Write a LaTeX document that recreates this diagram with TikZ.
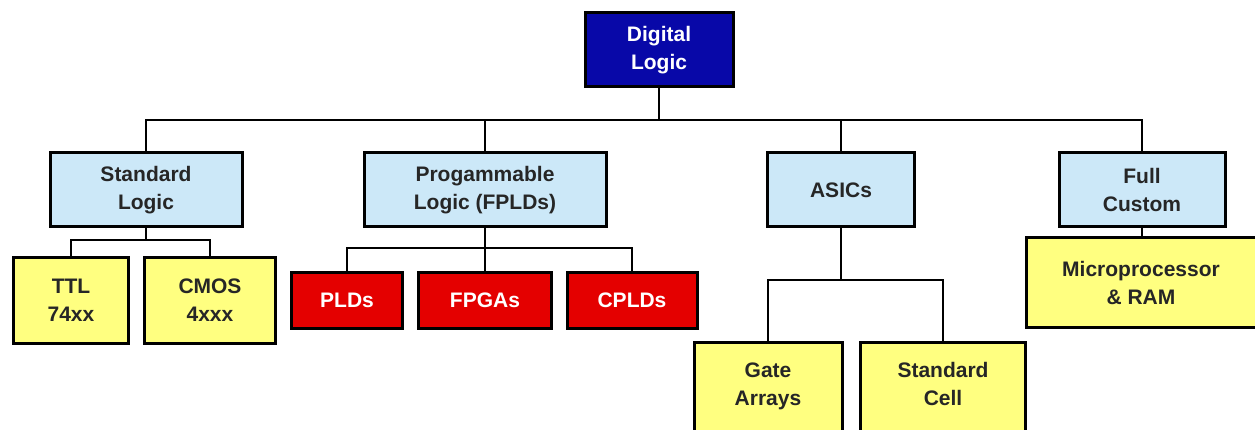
\documentclass[tikz,border=0pt]{standalone}
\usepackage{fontspec}
\setmainfont{Liberation Sans}
\definecolor{dlblue}{RGB}{8,8,168}
\definecolor{lblue}{RGB}{204,232,248}
\definecolor{lyellow}{RGB}{255,255,128}
\definecolor{bred}{RGB}{228,0,0}
\begin{document}
\begin{tikzpicture}[x=1pt,y=-1pt,
  box/.style={draw=black,line width=3pt,align=center,inner sep=0pt,
    font=\fontsize{21}{28}\selectfont\bfseries},
  topbox/.style={box,fill=dlblue,text=white},
  midbox/.style={box,fill=lblue,text=black!85},
  yelbox/.style={box,fill=lyellow,text=black!85},
  redbox/.style={box,fill=bred,text=white},
  conn/.style={draw=black,line width=2.8pt}]
\useasboundingbox (0,0) rectangle (1255,430);
\clip (0,0) rectangle (1255,430);
% level 0
\node[topbox,minimum width=148pt,minimum height=74pt] (dl) at (659,50) {Digital\\Logic};
% level 1
\node[midbox,minimum width=192pt,minimum height=74pt] (sl) at (146,190) {Standard\\Logic};
\node[midbox,minimum width=242pt,minimum height=74pt] (pl) at (485,190) {Progammable\\Logic (FPLDs)};
\node[midbox,minimum width=147pt,minimum height=74pt] (as) at (841,190) {ASICs};
\node[midbox,minimum width=166pt,minimum height=74pt] (fc) at (1142,190) {Full\\Custom};
% level 2
\node[yelbox,minimum width=115pt,minimum height=85pt] (ttl) at (71,300.5) {TTL\\74xx};
\node[yelbox,minimum width=131pt,minimum height=85pt] (cmos) at (210,300.5) {CMOS\\4xxx};
\node[redbox,minimum width=111pt,minimum height=55pt] (plds) at (347,300.5) {PLDs};
\node[redbox,minimum width=133pt,minimum height=55pt] (fpgas) at (485,300.5) {FPGAs};
\node[redbox,minimum width=130pt,minimum height=55pt] (cplds) at (632,300.5) {CPLDs};
\node[yelbox,minimum width=148pt,minimum height=92pt] (ga) at (768,388) {Gate\\Arrays\strut};
\node[yelbox,minimum width=165pt,minimum height=92pt] (sc) at (943,388) {Standard\\Cell\strut};
\node[yelbox,minimum width=230pt,minimum height=89pt] (mp) at (1141,282.5) {Microprocessor\\\& RAM};
% bus coordinates
\coordinate (b1) at (659,120);
\coordinate (b2) at (146,240);
\coordinate (b3) at (485,248);
\coordinate (b4) at (841,280);
% connectors
\draw[conn] (dl.south) -- (b1);
\draw[conn] (sl.north) |- (b1) -| (fc.north);
\draw[conn] (pl.north) -- (pl.north |- b1);
\draw[conn] (as.north) -- (as.north |- b1);
\draw[conn] (sl.south) -- (b2);
\draw[conn] (ttl.north) |- (b2) -| (cmos.north);
\draw[conn] (pl.south) -- (fpgas.north);
\draw[conn] (plds.north) |- (b3) -| (cplds.north);
\draw[conn] (as.south) -- (b4);
\draw[conn] (ga.north) |- (b4) -| (sc.north);
\draw[conn] (fc.south) -- (fc.south |- mp.north);
\end{tikzpicture}
\end{document}
